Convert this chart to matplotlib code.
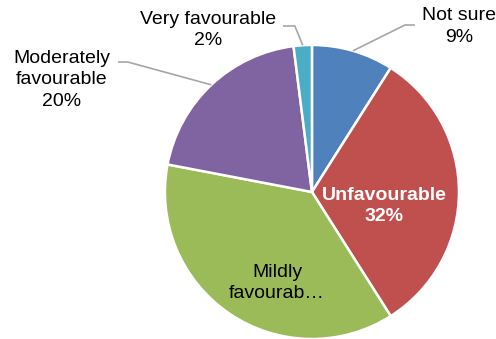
import numpy as np
import matplotlib
matplotlib.use("Agg")
import matplotlib.pyplot as plt

# survey responses, clockwise from 12 o'clock
categories = ["Not sure", "Unfavourable", "Mildly favourable",
              "Moderately favourable", "Very favourable"]
values = [9, 32, 37, 20, 2]
colors = ["#4F81BD", "#C0504D", "#9BBB59", "#8064A2", "#4BACC6"]

plt.rcParams["font.family"] = ["Liberation Sans", "DejaVu Sans"]

fig = plt.figure(figsize=(4.96, 3.39), dpi=100)
ax = fig.add_axes([0, 0, 1, 1])

wedges, _ = ax.pie(values, colors=colors, startangle=90, counterclock=False,
                   radius=1.0, center=(0, 0),
                   wedgeprops=dict(edgecolor="white", linewidth=1.8))

ax.set_xlim(-2.122, 1.252)
ax.set_ylim(-1.0, 1.306)
ax.set_aspect("equal")
ax.axis("off")

total = sum(values)
pct = [f"{round(v / total * 100)}%" for v in values]


def mid_point(w, r=1.0):
    ang = np.deg2rad((w.theta1 + w.theta2) / 2)
    return r * np.cos(ang), r * np.sin(ang)


# outside labels with leader lines: (index, text, text pos, elbow, line end)
outside = [
    (0, "Not sure", (1.00, 1.126), (0.633, 1.136), (0.70, 1.136)),
    (4, "Very favourable", (-0.707, 1.102), (-0.116, 1.129), (-0.197, 1.129)),
    (3, "Moderately\nfavourable", (-1.70, 0.762), (-1.252, 0.884), (-1.32, 0.884)),
]
for i, txt, tpos, elbow, end in outside:
    x0, y0 = mid_point(wedges[i])
    ax.plot([x0, elbow[0], end[0]], [y0, elbow[1], end[1]],
            color="#A6A6A6", lw=1.2, solid_capstyle="butt", zorder=1)
    ax.text(tpos[0], tpos[1], f"{txt}\n{pct[i]}", ha="center", va="center",
            fontsize=14, color="black", linespacing=1.35)

ax.text(0.49, -0.095, f"Unfavourable\n{pct[1]}", ha="center", va="center",
        fontsize=14, fontweight="bold", color="white", linespacing=1.35)
ax.text(-0.238, -0.619, "Mildly\nfavourab\u2026", ha="center", va="center",
        fontsize=14, color="black", linespacing=1.35)

fig.savefig("out.png", dpi=100)
